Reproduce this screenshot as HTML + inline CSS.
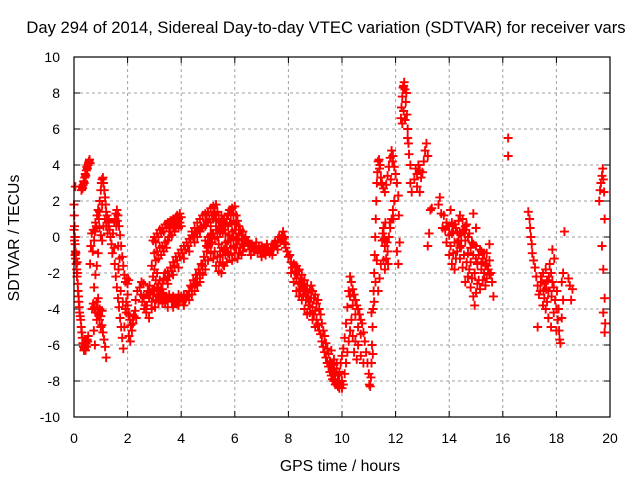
<!DOCTYPE html>
<html><head><meta charset="utf-8"><style>
body{margin:0;background:#fff;}
svg text{font-family:"Liberation Sans",sans-serif;font-size:14px;fill:#000;}
</style></head><body>
<svg id="chart" width="640" height="480" xmlns="http://www.w3.org/2000/svg">
<rect width="640" height="480" fill="#fff"/>
<text x="326" y="33" text-anchor="middle" style="font-size:16.6px">Day 294 of 2014, Sidereal Day-to-day VTEC variation (SDTVAR) for receiver vars</text>
<text x="340" y="471" text-anchor="middle" style="font-size:15.8px">GPS time / hours</text>
<text transform="translate(19,238) rotate(-90)" text-anchor="middle" style="font-size:15.8px">SDTVAR / TECUs</text>
<g id="grid"></g>
<g id="ticks"></g>
<g id="marks"></g>
<rect x="74" y="57" width="536" height="360" fill="none" stroke="#000" stroke-width="1.2"/>
</svg>
<script>
const xTicks=[0,2,4,6,8,10,12,14,16,18,20];
const yTicks=[-10,-8,-6,-4,-2,0,2,4,6,8,10];
// segments of [hour, sdtvar] readings
const seg1=[[0,1.8],[0.01,1.2],[0.02,0.6],[0.03,0],[0.04,-0.4],[0.05,-0.8],[0.06,-1.2],[0.07,-0.9],[0.08,-1.5],[0.1,-1.8],[0.11,-2.2],[0.12,-2.0],[0.14,-2.6],[0.15,-3.0],[0.17,-3.3],[0.18,-3.6],[0.2,-3.9],[0.21,-4.2],[0.23,-4.4],[0.25,-4.6],[0.27,-5.0],[0.29,-5.3],[0.31,-5.6],[0.33,-5.9],[0.35,-6.1],[0.37,-6.3],[0.39,-6.2],[0.41,-6.0],[0.43,-6.3],[0.45,-5.9],[0.47,-6.1],[0.49,-5.7],[0.51,-5.8],[0.53,-5.5],[0.0,0.4],[0.02,-0.2],[0.04,-1.0],[0.05,2.8],[0.12,-1.4]];
const seg2=[[0.28,2.6],[0.3,2.8],[0.32,2.7],[0.34,2.9],[0.36,3.1],[0.38,3.0],[0.4,3.3],[0.42,3.5],[0.44,3.4],[0.46,3.7],[0.48,3.9],[0.5,3.8],[0.52,4.0],[0.54,4.1],[0.56,4.2],[0.58,4.3],[0.6,4.1]];
const seg3=[[0.6,-1.5],[0.63,-0.5],[0.66,0.2],[0.7,-0.8],[0.72,0.4],[0.75,-0.2],[0.78,0.3],[0.8,0.8],[0.83,0.6],[0.86,1.2],[0.9,1.5],[0.93,1.0],[0.96,2.0],[1.0,2.6],[1.02,3.0],[1.05,3.2],[1.08,3.3],[1.1,3.0],[1.13,2.6],[1.16,2.2],[1.18,1.8],[1.2,1.4],[1.23,1.2],[1.26,1.0],[1.28,0.6],[1.3,0.9],[1.33,0.4],[1.36,0.0],[1.4,-0.4],[1.43,-0.9],[0.95,0.5],[1.0,0.1],[1.05,-0.2],[1.1,0.6],[0.9,-0.9],[0.85,-1.6],[0.8,-2.1],[0.75,-2.8],[1.15,1.0],[1.2,0.6],[1.25,0.2],[0.95,1.4],[1.05,1.8]];
const seg4=[[0.68,-4.0],[0.72,-3.7],[0.76,-3.9],[0.8,-4.2],[0.84,-3.6],[0.88,-3.9],[0.92,-4.3],[0.96,-4.0],[1.0,-4.4],[1.04,-4.9],[1.08,-5.3],[1.12,-5.7],[1.16,-6.1],[1.2,-6.7],[0.74,-5.2],[0.78,-6.0],[1.0,-5.0],[0.95,-4.6],[0.85,-4.6],[0.9,-3.4],[1.05,-4.1]];
const seg5=[[1.5,0.8],[1.53,1.0],[1.56,1.3],[1.6,1.5],[1.64,1.2],[1.68,0.6],[1.72,0.1],[1.76,-0.5],[1.8,-1.1],[1.84,-1.6],[1.88,-2.1],[1.92,-2.5],[1.96,-2.3],[2.0,-2.6],[2.04,-2.4],[1.45,0.2],[1.5,-0.6],[1.52,-1.5],[1.56,-2.2],[1.6,-2.8],[1.64,-3.4],[1.68,-3.9],[1.72,-4.5],[1.76,-5.0],[1.8,-5.6],[1.84,-6.2],[1.88,-5.0],[1.92,-4.0],[1.95,-3.6],[1.7,-1.2],[1.65,-0.5],[1.58,0.6],[1.62,0.9],[1.66,-1.8],[1.74,-3.0],[1.82,-3.6]];
const seg6=[[1.95,-4.2],[2.0,-3.8],[2.04,-4.3],[2.08,-4.6],[2.12,-4.9],[2.16,-5.2],[2.2,-4.8],[2.24,-4.4],[2.28,-4.1],[2.32,-4.5],[2.05,-5.5],[2.1,-5.8],[2.0,-3.2],[2.3,-3.5],[2.36,-3.0]];
const seg7=[[2.45,-2.8],[2.5,-3.2],[2.55,-3.6],[2.6,-3.3],[2.65,-3.8],[2.7,-3.2],[2.75,-3.0],[2.8,-3.4],[2.85,-3.1],[2.9,-3.6],[2.95,-3.2],[3.0,-2.9],[3.05,-3.5],[3.1,-3.3],[3.15,-3.6],[3.2,-3.2],[3.25,-3.5],[3.3,-3.7],[3.35,-3.4],[3.4,-3.6],[3.45,-3.3],[3.5,-3.5],[3.55,-3.2],[3.6,-3.4],[3.65,-3.6],[3.7,-3.3],[3.75,-3.5],[3.8,-3.7],[3.85,-3.4],[3.9,-3.2],[3.95,-3.5],[4.0,-3.3],[4.05,-3.6],[4.1,-3.2],[4.15,-3.5],[4.2,-3.3],[2.6,-2.6],[2.7,-4.2],[2.8,-4.5],[2.9,-4.0],[2.52,-2.5],[2.62,-4.0],[2.72,-3.8],[2.82,-2.7],[2.92,-2.9],[3.02,-3.9],[3.12,-3.0],[3.3,-3.1],[3.5,-3.9],[3.7,-3.9],[3.9,-3.8],[4.1,-3.8]];
const seg8=[[2.95,-0.2],[3.0,0.0],[3.05,-0.3],[3.1,0.2],[3.15,0.0],[3.2,0.4],[3.25,0.2],[3.3,0.5],[3.35,0.3],[3.4,0.7],[3.45,0.5],[3.5,0.8],[3.55,0.6],[3.6,0.9],[3.65,0.7],[3.7,1.0],[3.75,0.8],[3.8,1.1],[3.85,1.2],[3.9,1.0],[3.95,1.3],[3.0,-0.9],[3.05,-1.3],[3.1,-0.8],[3.15,-1.2],[3.2,-0.6],[3.25,-1.0],[3.3,-0.5],[3.35,-0.8],[3.4,-0.3],[3.45,-0.6],[3.5,-0.2],[3.55,0.0],[3.6,0.3],[3.65,0.1],[3.7,0.5],[3.75,0.3],[3.8,0.6],[3.85,0.7],[3.9,0.5],[3.95,0.8],[4.0,1.1],[4.0,0.6]];
const seg9=[[2.9,-1.6],[2.95,-2.2],[3.0,-1.8],[3.05,-2.4],[3.1,-2.0],[3.15,-2.6],[3.2,-2.4],[3.25,-2.9],[3.3,-2.6],[3.35,-2.3],[3.4,-2.0],[3.45,-2.4],[3.5,-1.9],[3.55,-2.2],[3.6,-1.7],[3.65,-1.9],[3.7,-1.4],[3.75,-1.6],[3.8,-1.1],[3.85,-1.3],[3.9,-0.9],[3.95,-1.1],[4.0,-0.7],[4.05,-0.9],[4.1,-0.5],[4.15,-0.7],[4.2,-0.3],[4.25,-0.5],[4.3,-0.1],[4.35,-0.3],[4.4,0.1],[3.1,-2.8],[3.2,-3.0],[3.3,-2.9],[3.5,-2.6],[3.7,-2.1],[3.9,-1.7],[4.1,-1.2],[4.3,-0.8]];
const seg10=[[4.25,-3.2],[4.3,-3.0],[4.35,-2.7],[4.4,-2.8],[4.45,-2.4],[4.5,-2.6],[4.55,-2.1],[4.6,-2.3],[4.65,-1.8],[4.7,-2.0],[4.75,-1.5],[4.8,-1.6],[4.85,-1.1],[4.9,-1.3],[4.95,-0.8],[5.0,-0.6],[5.05,-0.3],[5.1,0.0],[5.15,0.2],[4.3,-3.5],[4.4,-3.2],[4.5,-3.0],[4.6,-2.7],[4.7,-2.5],[4.8,-2.1],[4.9,-1.8],[5.0,-1.3],[5.1,-0.9]];
const seg11=[[4.4,0.3],[4.45,0.0],[4.5,0.5],[4.55,0.2],[4.6,0.8],[4.65,0.4],[4.7,1.0],[4.75,0.6],[4.8,1.2],[4.85,0.7],[4.9,1.3],[4.95,0.9],[5.0,1.4],[5.05,1.0],[5.1,1.6],[5.15,1.2],[5.2,1.7],[5.25,1.3],[5.3,1.8],[5.35,1.4],[5.4,1.2],[5.45,0.8],[5.5,0.5],[5.55,0.9],[5.6,0.4],[5.65,0.7],[5.7,1.0],[5.75,1.3],[5.8,1.5],[5.85,1.2],[5.9,1.6],[5.95,1.3],[6.0,1.7],[6.05,1.2],[6.1,0.9],[6.15,0.6],[6.2,0.4],[6.25,0.1],[6.3,0.3],[6.35,-0.1],[6.4,0.0],[6.45,-0.3],[6.5,-0.2],[4.5,-0.3],[4.6,0.0],[4.7,0.3],[4.8,0.5],[4.9,0.6],[5.0,0.8],[5.1,0.6],[5.2,1.0],[5.3,1.0],[5.45,0.3],[5.55,0.2],[5.65,0.2],[5.75,0.6],[5.85,0.8],[5.95,0.9],[6.05,0.7],[6.15,0.2],[6.25,-0.4],[6.35,-0.5]];
const seg12=[[4.9,-0.2],[4.95,-0.5],[5.0,0.0],[5.05,-0.4],[5.1,0.1],[5.15,-0.3],[5.2,0.2],[5.25,-0.1],[5.3,0.4],[5.35,0.0],[5.4,-0.4],[5.45,-0.8],[5.5,-0.6],[5.55,-1.0],[5.6,-0.7],[5.65,-0.3],[5.7,-0.6],[5.75,-0.2],[5.8,0.1],[5.85,-0.2],[5.9,0.3],[5.95,0.0],[6.0,0.4],[6.05,-0.1],[6.1,-0.4],[6.15,-0.2],[6.2,-0.6],[6.25,-0.4],[6.3,-0.8],[5.2,-1.2],[5.3,-1.6],[5.4,-1.9],[5.5,-2.0],[5.6,-1.6],[5.7,-1.4],[5.8,-1.0],[5.9,-1.3],[6.0,-0.9],[6.1,-1.2],[5.3,0.9],[5.4,0.6],[5.5,1.2],[5.6,1.0],[5.25,-0.8],[5.35,-1.1],[5.45,-1.4],[5.55,-1.5],[5.65,-1.0],[5.75,-0.9],[5.85,-0.6],[5.95,-0.5],[6.05,-0.6],[6.15,-0.9],[6.25,-1.0]];
const seg13=[[6.5,-0.5],[6.55,-0.7],[6.6,-0.4],[6.65,-0.6],[6.7,-0.8],[6.75,-0.5],[6.8,-0.7],[6.85,-0.9],[6.9,-0.6],[6.95,-0.8],[7.0,-0.5],[7.05,-0.9],[7.1,-0.7],[7.15,-1.0],[7.2,-0.8],[7.25,-0.6],[7.3,-0.9],[7.35,-0.7],[7.4,-0.4],[7.45,-0.6],[7.5,-0.3],[7.55,-0.5],[7.6,-0.2],[7.65,0.0],[7.7,-0.2],[7.75,0.1],[7.8,-0.1],[7.85,-0.3],[7.9,-0.6],[6.6,-1.0],[6.8,-0.3],[7.0,-1.1],[7.2,-0.4],[7.4,-1.0],[7.6,-0.7],[7.8,0.3]];
const seg14=[[7.85,0.0],[7.9,-0.4],[7.95,-0.8],[8.0,-1.1],[8.05,-1.0],[8.1,-1.4],[8.15,-1.7],[8.2,-1.5],[8.25,-2.0],[8.3,-2.3],[8.35,-2.1],[8.4,-2.6],[8.45,-2.9],[8.5,-2.7],[8.55,-3.2],[8.6,-3.0],[8.65,-3.5],[8.7,-3.3],[8.75,-3.8],[8.8,-3.6],[8.85,-3.4],[8.9,-3.9],[8.95,-4.3],[9.0,-4.1],[9.05,-4.6],[9.1,-4.9],[9.15,-5.2],[9.2,-5.4],[9.25,-5.8],[9.3,-6.1],[9.35,-6.4],[9.4,-6.7],[9.45,-7.0],[9.5,-7.2],[9.55,-7.5],[9.6,-7.7],[9.65,-7.9],[9.7,-8.0],[9.75,-8.2],[9.8,-8.1],[9.85,-8.3],[9.9,-8.4],[9.95,-8.2],[10.0,-8.4],[10.05,-8.2],[8.1,-2.0],[8.2,-2.5],[8.3,-3.0],[8.4,-3.3],[8.5,-3.5],[8.6,-4.0],[8.7,-4.3],[8.8,-4.2],[8.9,-4.6],[9.0,-5.0]];
const seg15=[[8.3,-1.6],[8.35,-1.9],[8.4,-1.8],[8.45,-2.3],[8.5,-2.1],[8.55,-2.6],[8.6,-2.4],[8.65,-2.9],[8.7,-2.7],[8.75,-3.1],[8.8,-2.9],[8.85,-2.7],[8.9,-3.0],[8.95,-3.4],[9.0,-3.2],[9.05,-3.7],[9.1,-3.5],[9.15,-4.0],[9.2,-4.3],[9.25,-4.8],[9.3,-5.2],[9.35,-5.5],[9.4,-5.9],[9.45,-6.2],[9.5,-6.5],[9.55,-6.9],[9.6,-7.1],[9.65,-7.4],[9.7,-7.1],[9.75,-7.6],[9.8,-7.3],[9.85,-7.7],[9.9,-7.5],[9.95,-7.0],[10.0,-6.6],[10.05,-6.2],[10.1,-5.6],[10.15,-4.8],[10.2,-3.9],[10.25,-3.0],[10.3,-2.2],[10.35,-2.5],[10.4,-2.9],[10.45,-3.2],[10.5,-3.5],[10.55,-3.8],[10.6,-4.0],[10.65,-4.3],[10.7,-4.6],[10.0,-8.0],[10.1,-7.6],[10.15,-7.0],[10.2,-6.4],[10.25,-5.8],[10.3,-5.2],[10.35,-4.6],[10.4,-5.5],[10.5,-5.8],[10.6,-6.0],[10.7,-6.6],[10.8,-7.0],[10.3,-3.3],[10.4,-3.8],[10.5,-4.3],[10.6,-5.0],[10.7,-5.4],[10.45,-6.4],[10.55,-6.8],[9.6,-6.3],[9.7,-6.8],[9.8,-7.0],[9.9,-8.0]];
const seg16=[[10.75,-4.8],[10.8,-5.3],[10.85,-5.8],[10.9,-6.4],[10.95,-7.0],[11.0,-7.6],[11.02,-8.2],[11.05,-8.3],[11.08,-7.8],[11.1,-7.0],[11.12,-6.0],[11.14,-5.0],[11.16,-4.0],[11.18,-3.0],[11.2,-2.0],[11.22,-1.0],[11.24,0.0],[11.26,1.0],[11.28,2.0],[11.3,3.0],[11.32,3.6],[11.35,4.2],[11.38,4.3],[11.4,3.8],[11.45,3.3],[11.5,2.9],[11.55,2.7],[11.6,2.5],[11.65,2.9],[11.7,3.4],[11.75,3.9],[11.8,4.4],[11.85,4.8],[11.9,4.5],[11.95,3.9],[12.0,3.5],[12.05,3.0],[12.1,2.3],[12.12,1.2],[11.5,-0.2],[11.55,0.5],[11.6,-0.5],[11.65,-1.2],[11.7,-0.8],[11.75,0.0],[11.8,0.5],[11.85,1.0],[11.9,1.5],[11.95,2.0],[11.45,-1.5],[11.4,-2.3],[11.35,-3.0],[11.3,-1.3],[11.25,-2.5],[11.2,-3.6],[11.15,-6.5],[11.1,-4.2],[11.6,-1.8],[11.55,-1.3],[12.05,-0.8],[12.1,-1.5],[12.15,-0.3],[11.42,4.0],[11.48,3.0],[11.52,0.2],[11.58,-0.1],[11.62,0.8],[11.68,-0.3],[11.72,-1.5],[11.78,0.8],[11.82,3.2],[11.88,4.2],[11.92,1.0]];
const seg17=[[12.2,6.6],[12.22,7.2],[12.25,7.8],[12.28,8.3],[12.32,8.6],[12.35,8.2],[12.38,7.5],[12.42,6.8],[12.45,6.0],[12.48,5.2],[12.5,4.6],[12.55,3.0],[12.6,2.5],[12.25,6.3],[12.35,6.5],[12.45,5.5],[12.55,4.0],[12.3,7.0],[12.4,8.0],[12.3,8.4]];
const seg18=[[12.7,3.2],[12.75,3.8],[12.8,3.5],[12.85,4.0],[12.9,3.7],[12.95,3.3],[13.0,3.6],[13.05,4.2],[13.1,4.8],[13.15,5.2],[13.2,4.5],[12.8,2.8],[12.9,2.5],[13.2,-0.5],[13.25,0.2],[13.3,1.5],[13.35,1.6],[13.6,1.8],[13.65,2.2],[13.7,1.3],[13.75,0.5]];
const seg19=[[13.8,1.2],[13.85,0.4],[13.9,-0.3],[13.95,0.6],[14.0,0.1],[14.05,-0.5],[14.1,0.8],[14.15,0.3],[14.2,-0.3],[14.25,0.5],[14.3,-0.8],[14.35,0.9],[14.4,0.2],[14.45,-0.5],[14.5,1.0],[14.55,0.4],[14.6,-0.2],[14.65,0.7],[14.7,-0.9],[14.75,0.2],[14.8,-1.4],[14.85,-0.3],[14.9,-1.0],[14.95,-2.0],[15.0,-0.5],[15.05,-1.5],[15.1,-2.4],[15.15,-0.7],[15.2,-1.8],[15.25,-1.2],[15.3,-2.0],[15.35,-1.5],[15.4,-2.3],[15.45,-1.8],[15.5,-1.3],[15.55,-2.0],[15.6,-2.5],[15.65,-3.3],[14.0,-1.0],[14.1,-1.5],[14.2,-1.8],[14.3,0.3],[14.4,-1.2],[14.5,-1.7],[14.6,-2.5],[14.7,-2.2],[14.8,-2.8],[14.9,-3.3],[14.95,-3.8],[15.0,-3.1],[14.05,1.5],[14.4,1.2],[14.9,1.3],[15.0,0.5],[15.2,-0.8],[15.4,-0.9],[15.5,-0.4],[13.9,0.8],[14.0,0.6],[14.1,0.2],[14.2,0.7],[14.3,-0.3],[14.4,-0.6],[14.5,0.3],[14.6,0.6],[14.7,0.0],[14.8,-0.6],[14.9,-0.4],[15.0,-1.2],[15.1,-1.0],[15.2,-1.4],[15.3,-0.9],[15.4,-1.6],[15.5,-2.1],[14.15,-0.9],[14.25,-1.2],[14.35,-0.2],[14.45,0.1],[14.55,-1.0],[14.65,-1.4],[14.75,-1.8],[14.85,-2.3],[15.05,-2.6],[15.15,-2.9],[15.25,-2.4],[15.35,-2.7]];
const seg20=[[16.2,5.5],[16.2,4.5],[16.95,1.4],[17.0,1.0],[17.02,0.5],[17.05,0.0],[17.08,-0.4],[17.1,-0.9],[17.15,-1.3],[17.2,-1.7],[17.25,-2.2],[17.3,-2.7],[17.35,-3.2],[17.4,-3.0],[17.45,-2.5],[17.5,-2.0],[17.55,-2.6],[17.6,-1.8],[17.65,-2.4],[17.7,-3.0],[17.75,-1.5],[17.8,-2.0],[17.85,-0.7],[17.9,-2.8],[17.95,-3.5],[18.0,-4.0],[18.05,-4.6],[18.1,-5.2],[18.12,-5.7],[18.15,-5.9],[18.2,-4.5],[17.6,-4.0],[17.7,-4.5],[17.8,-5.0],[17.9,-4.2],[18.0,-5.2],[18.2,-2.5],[18.25,-2.0],[18.3,0.3],[18.25,-3.5],[18.45,-2.3],[18.5,-2.7],[18.55,-3.5],[18.6,-2.9],[17.3,-5.0],[17.5,-3.8],[17.42,-2.2],[17.52,-3.0],[17.62,-2.9],[17.72,-2.2],[17.82,-3.3],[17.92,-1.2],[18.02,-3.0],[18.08,-4.0],[17.55,-3.4],[17.65,-3.6],[17.85,-2.5]];
const seg21=[[19.6,2.0],[19.63,2.6],[19.66,3.0],[19.7,3.4],[19.73,3.8],[19.75,3.2],[19.78,2.5],[19.8,1.0],[19.7,-0.5],[19.75,-1.8],[19.8,-3.4],[19.75,-4.2],[19.82,-4.8],[19.8,-5.3]];
const segments=[seg1,seg2,seg3,seg4,seg5,seg6,seg7,seg8,seg9,seg10,seg11,seg12,seg13,seg14,seg15,seg16,seg17,seg18,seg19,seg20,seg21];

const X0=74,X1=610,Y0=417,Y1=57;
function xs(t){return X0+(t-0)/(20-0)*(X1-X0);}
function ys(v){return Y0-(v+10)/20*(Y0-Y1);}
const NS='http://www.w3.org/2000/svg';
const grid=document.getElementById('grid'),ticks=document.getElementById('ticks'),marks=document.getElementById('marks');
function mk(tag,attrs,parent){const e=document.createElementNS(NS,tag);for(const k in attrs)e.setAttribute(k,attrs[k]);parent.appendChild(e);return e;}
xTicks.forEach(function(t){
  const x=xs(t);
  if(t>0&&t<20){
    const g=mk('line',{x1:x,x2:x,y1:Y1,y2:Y0,stroke:'#a0a0a0','stroke-dasharray':'3,3','stroke-width':1},grid);
    
    
  }
  mk('line',{x1:x,x2:x,y1:Y0,y2:Y0-6,stroke:'#000'},ticks);
  mk('line',{x1:x,x2:x,y1:Y1,y2:Y1+6,stroke:'#000'},ticks);
  const lb=mk('text',{x:x,y:Y0+26,'text-anchor':'middle'},ticks);
  lb.textContent=t;
  
  
});
yTicks.forEach(function(v){
  const y=ys(v);
  if(v>-10&&v<10){
    const g=mk('line',{x1:X0,x2:X1,y1:y,y2:y,stroke:'#a0a0a0','stroke-dasharray':'3,3','stroke-width':1},grid);
    
    
  }
  mk('line',{x1:X0,x2:X0+6,y1:y,y2:y,stroke:'#000'},ticks);
  mk('line',{x1:X1,x2:X1-6,y1:y,y2:y,stroke:'#000'},ticks);
  const lb=mk('text',{x:X0-14,y:y+5,'text-anchor':'end'},ticks);
  lb.textContent=v;
  
  
});
let d='';
segments.forEach(function(s){s.forEach(function(p){
  const x=xs(p[0]),y=ys(p[1]);
  d+='M'+(x-4.5)+' '+y+'h9M'+x+' '+(y-4.5)+'v9';
});});
const path=mk('path',{d:d,stroke:'#ff0000','stroke-width':1.9,fill:'none'},marks);


</script>
</body></html>
